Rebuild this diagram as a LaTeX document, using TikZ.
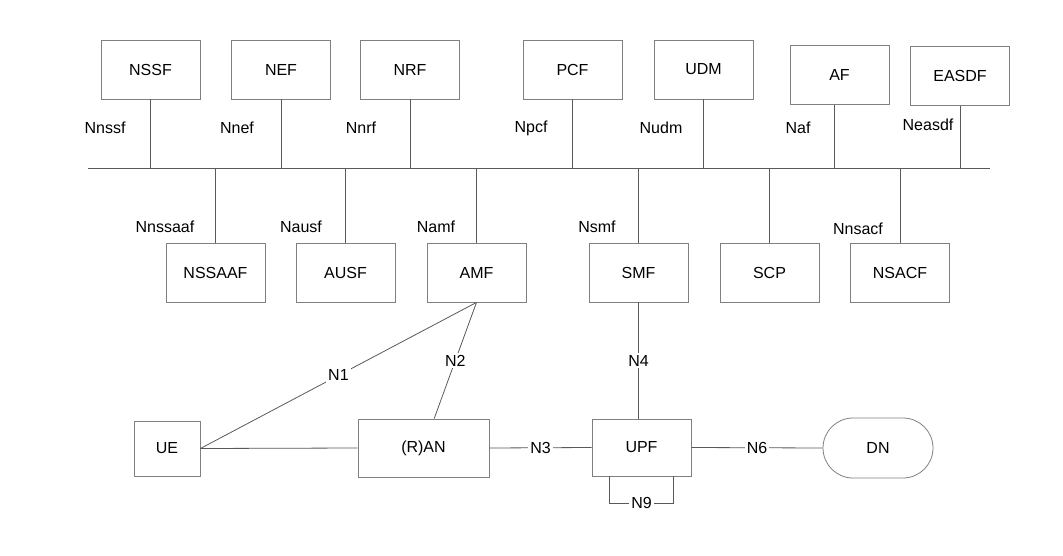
\documentclass[tikz,border=0pt]{standalone}
\usepackage{fontspec}
\setmainfont{Liberation Sans}
\usepackage{tikz}
\usetikzlibrary{positioning}
\tikzset{
x=0.75pt, y=-0.75pt, % one unit is one pixel of the drawing
every node/.style={font=\fontsize{12}{14}\selectfont}, % text size for all nodes
nf/.style={draw=black!50, line width=0.6pt, minimum width=74.25pt, minimum height=44.25pt, inner sep=0pt}, % network function boxes
link/.style={draw=black!65, line width=0.6pt}, % plain connectors
lbl/.style={fill=white, inner sep=1.5pt}, % reference point labels sitting on a line
}

\begin{document}
\begin{tikzpicture}
    \useasboundingbox (0,0) rectangle (1063,556);

    % service based bus
    \coordinate (busW) at (88,168);
    \coordinate (busE) at (990,168);
    \draw[link] (busW) -- (busE);

    % functions above the bus
    \node[nf] (nssf)  at (150.5,69.5) {NSSF};
    \node[nf] (nef)   at (281,69.5)   {NEF};
    \node[nf] (nrf)   at (410,69.5)   {NRF};
    \node[nf] (pcf)   at (572.5,69.5) {PCF};
    \node[nf] (udm)   at (703.5,69.5) {UDM};
    \node[nf] (af)    at (839.5,75)   {AF};
    \node[nf] (easdf) at (960,76)     {EASDF};

    \node (nnssf)  at (105,128) {Nnssf};
    \node (nnef)   at (237,128) {Nnef};
    \node (nnrf)   at (361,128) {Nnrf};
    \node (npcf)   at (531,128) {Npcf};
    \node (nudm)   at (661,128) {Nudm};
    \node (naf)    at (798,128) {Naf};
    \node (neasdf) at (928,125) {Neasdf};

    % functions below the bus
    \node[nf] (nssaaf) at (215.5,272.5) {NSSAAF};
    \node[nf] (ausf)   at (345.5,272.5) {AUSF};
    \node[nf] (amf)    at (476.5,272.5) {AMF};
    \node[nf] (smf)    at (638.5,272.5) {SMF};
    \node[nf] (scp)    at (769.5,272.5) {SCP};
    \node[nf] (nsacf)  at (900,272.5)   {NSACF};

    \node (nnssaaf) at (165,227) {Nnssaaf};
    \node (nausf)   at (301,227) {Nausf};
    \node (namf)    at (436,227) {Namf};
    \node (nsmf)    at (597,227) {Nsmf};
    \node (nnsacf)  at (858,229) {Nnsacf};

    % attachments to the bus
    \foreach \f in {nssf,nef,nrf,pcf,udm,easdf}
        \draw[link] (\f.south) -- (\f.south |- busW);
    \draw[link] ([xshift=-4pt]af.south) -- ([xshift=-4pt]af.south |- busW);
    \foreach \f in {nssaaf,ausf,amf,smf,scp,nsacf}
        \draw[link] (\f.north) -- (\f.north |- busW);

    % user plane
    \node[nf, minimum width=49.5pt, minimum height=41.25pt] (ue) at (167,448.5) {UE};
    \node[nf, minimum width=98.25pt, minimum height=43.5pt] (ran) at (423.5,448) {(R)AN};
    \node[nf, minimum height=42.75pt] (upf) at (641.5,447.5) {UPF};
    \node[nf, minimum width=82.5pt, minimum height=45pt, rounded corners=22.5pt] (dn) at (878,448) {DN};

    \draw[link] (ue.east) -- node[lbl] {N1} (amf.south);
    \draw[link] ([xshift=8pt]ran.north) -- node[lbl] {N2} (amf.south);
    \draw[link] (ue.east) -- (ran.west);
    \draw[link] (ran.east) -- node[lbl] {N3} (upf.west);
    \draw[link] (smf.south) -- node[lbl] {N4} (smf.south |- upf.north);
    \draw[link] (upf.east) -- node[lbl] {N6} (dn.west);
    \draw[link] ([xshift=-24pt]upf.south) |- node[lbl, pos=0.75] {N9} ([xshift=24pt, yshift=-20.25pt]upf.south) -- ([xshift=24pt]upf.south);
\end{tikzpicture}
\end{document}
